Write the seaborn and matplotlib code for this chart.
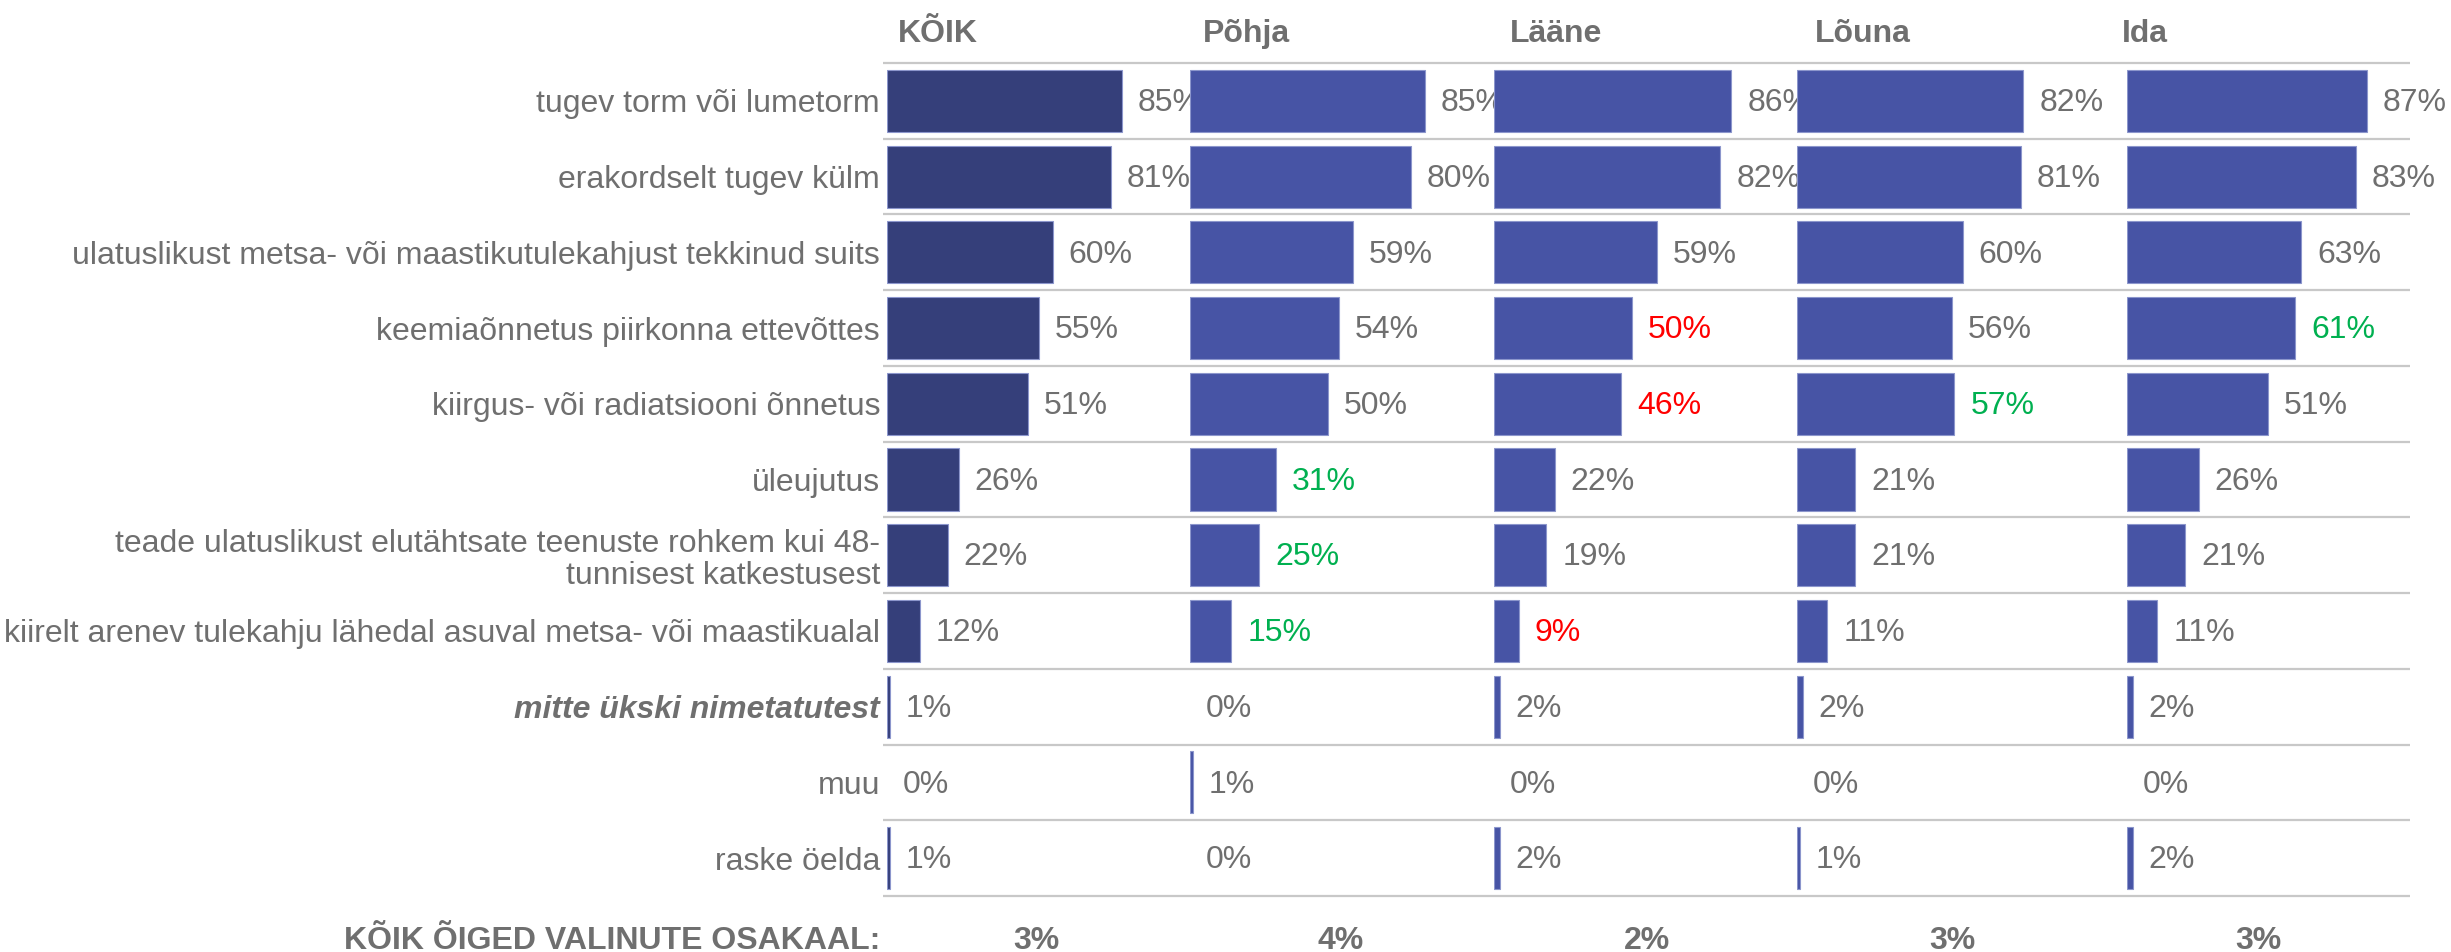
import numpy as np
import pandas as pd
import matplotlib
matplotlib.use("Agg")
import matplotlib.pyplot as plt
import seaborn as sns

# ---------------- data ----------------
categories = [
    "tugev torm või lumetorm",
    "erakordselt tugev külm",
    "ulatuslikust metsa- või maastikutulekahjust tekkinud suits",
    "keemiaõnnetus piirkonna ettevõttes",
    "kiirgus- või radiatsiooni õnnetus",
    "üleujutus",
    "teade ulatuslikust elutähtsate teenuste rohkem kui 48-\ntunnisest katkestusest",
    "kiirelt arenev tulekahju lähedal asuval metsa- või maastikualal",
    "mitte ükski nimetatutest",
    "muu",
    "raske öelda",
]
regions = ["KÕIK", "Põhja", "Lääne", "Lõuna", "Ida"]
val_koik = [85, 81, 60, 55, 51, 26, 22, 12, 1, 0, 1]
val_pohja = [85, 80, 59, 54, 50, 31, 25, 15, 0, 1, 0]
val_laane = [86, 82, 59, 50, 46, 22, 19, 9, 2, 0, 2]
val_louna = [82, 81, 60, 56, 57, 21, 21, 11, 2, 0, 1]
val_ida = [87, 83, 63, 61, 51, 26, 21, 11, 2, 0, 2]
# significance vs total: "+" higher, "-" lower, "" none
sig_koik = [""] * 11
sig_pohja = ["", "", "", "", "", "+", "+", "+", "", "", ""]
sig_laane = ["", "", "", "-", "-", "", "", "-", "", "", ""]
sig_louna = ["", "", "", "", "+", "", "", "", "", "", ""]
sig_ida = ["", "", "", "+", "", "", "", "", "", "", ""]
all_correct_label = "KÕIK ÕIGED VALINUTE OSAKAAL:"
all_correct = ["3%", "4%", "2%", "3%", "3%"]

values = [val_koik, val_pohja, val_laane, val_louna, val_ida]
sigs = [sig_koik, sig_pohja, sig_laane, sig_louna, sig_ida]

# ---------------- style ----------------
sns.set_theme(style="white")
plt.rcParams["font.family"] = ["Liberation Sans", "DejaVu Sans"]

GRAY = "#6f6f6f"
SIG_COL = {"": GRAY, "+": "#00B050", "-": "#FF0000"}
BAR_TOTAL = "#353F7A"
BAR_REG = "#4754A5"
FS = 23

W, H = 2451, 952
fig = plt.figure(figsize=(W / 100, H / 100), dpi=100)


def fx(px):
    return px / W


def fy(py):
    return 1 - py / H


grid_top, grid_bot = 63, 896
px_per_pct = 2.76
panel_starts = [887, 1190, 1494, 1797, 2127]
panel_w = 300
header_x = [898, 1203, 1510, 1815, 2122]
bottom_x = [1036, 1341, 1647, 1952, 2258]
n = len(categories)

# background gridlines
ax_bg = fig.add_axes([fx(883), fy(grid_bot), fx(2410 - 883), (grid_bot - grid_top) / H])
ax_bg.set_xlim(0, 1)
ax_bg.set_ylim(n - 0.5, -0.5)
ax_bg.hlines(np.arange(-0.5, n), 0, 1, color="#c8c8c8", lw=1.6, clip_on=False)
ax_bg.axis("off")

for i, reg in enumerate(regions):
    ax = fig.add_axes([fx(panel_starts[i]), fy(grid_bot), fx(panel_w), (grid_bot - grid_top) / H])
    ax.patch.set_alpha(0)
    df = pd.DataFrame({"cat": categories, "val": values[i]})
    sns.barplot(data=df, x="val", y="cat", orient="h",
                color=BAR_TOTAL if i == 0 else BAR_REG, saturation=1,
                width=0.82, edgecolor="#8c96cc", linewidth=0.8, ax=ax)
    for p in ax.patches:
        if p.get_width() <= 0:
            p.set_visible(False)
    ax.set_xlim(0, panel_w / px_per_pct)
    ax.set_ylim(n - 0.5, -0.5)
    for s in ax.spines.values():
        s.set_visible(False)
    ax.set_xticks([])
    ax.set_xlabel("")
    ax.set_ylabel("")
    ax.tick_params(axis="y", length=0, pad=5)
    if i == 0:
        ax.set_yticks(range(n))
        ax.set_yticklabels(categories, fontsize=FS, color=GRAY, linespacing=1.1)
        for t in ax.get_yticklabels():
            if t.get_text() == "mitte ükski nimetatutest":
                t.set_fontweight("bold")
                t.set_fontstyle("italic")
    else:
        ax.set_yticks([])
    for j, v in enumerate(values[i]):
        ax.text(v + 16 / px_per_pct, j + 0.03, f"{v}%", ha="left", va="center",
                fontsize=FS, color=SIG_COL[sigs[i][j]], clip_on=False)
    fig.text(fx(header_x[i]), fy(42), reg, ha="left", va="baseline",
             fontsize=FS, fontweight="bold", color=GRAY)
    fig.text(fx(bottom_x[i]), fy(949), all_correct[i], ha="center", va="baseline",
             fontsize=FS, fontweight="bold", color=GRAY)

fig.text(fx(880), fy(949), all_correct_label, ha="right", va="baseline",
         fontsize=FS, fontweight="bold", color=GRAY)

fig.savefig("out.png", dpi=100)
